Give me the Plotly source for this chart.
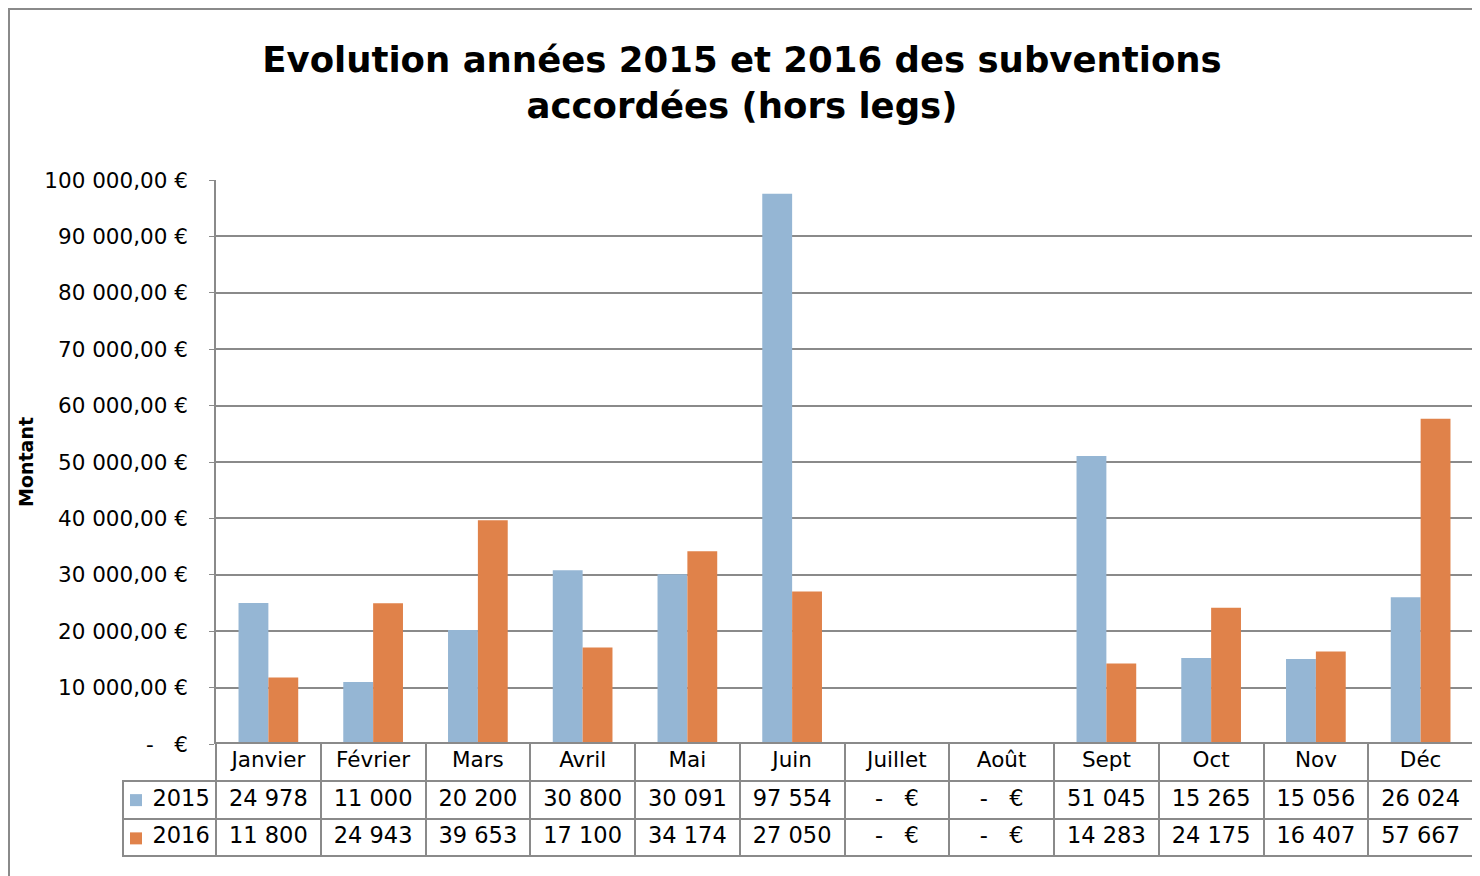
import plotly.graph_objects as go

# Données
mois = ["Janvier", "Février", "Mars", "Avril", "Mai", "Juin",
        "Juillet", "Août", "Sept", "Oct", "Nov", "Déc"]
annees = ["2015", "2016"]
montants_2015 = [24978, 11000, 20200, 30800, 30091, 97554, 0, 0, 51045, 15265, 15056, 26024]
montants_2016 = [11800, 24943, 39653, 17100, 34174, 27050, 0, 0, 14283, 24175, 16407, 57667]

graduations = [0, 10000, 20000, 30000, 40000, 50000, 60000, 70000, 80000, 90000, 100000]
libelles_graduations = ["-\u00a0\u00a0\u00a0€", "10 000,00 €", "20 000,00 €", "30 000,00 €", "40 000,00 €",
                        "50 000,00 €", "60 000,00 €", "70 000,00 €", "80 000,00 €", "90 000,00 €",
                        "100 000,00 €"]

couleur_2015 = "#95b6d4"
couleur_2016 = "#e0824a"
gris = "#8a8a8a"
police = "DejaVu Sans"


def fmt(v):
    # format Excel : séparateur de milliers espace, zéro -> "-   €"
    if v == 0:
        return "-\u00a0\u00a0\u00a0€"
    return f"{v:,}".replace(",", "\u00a0")


fig = go.Figure()

# la légende ne montre que les carrés de couleur, le texte est dans la table
fig.add_trace(go.Bar(x=mois, y=montants_2015, name="", legendgroup="a",
                     marker=dict(color=couleur_2015, line=dict(width=0))))
fig.add_trace(go.Bar(x=mois, y=montants_2016, name="", legendgroup="b",
                     marker=dict(color=couleur_2016, line=dict(width=0))))

# Table de données sous le graphique
fig.add_trace(go.Table(
    domain=dict(x=[0, 1], y=[0, 114 / 677]),
    columnwidth=[93] + [104.75] * 12,
    header=dict(
        values=[""] + mois,
        height=38,
        align="center",
        font=dict(family=police, size=21.5, color="black"),
        fill=dict(color=["rgba(0,0,0,0)"] + ["white"] * 12),
        line=dict(color=["rgba(0,0,0,0)"] + [gris] * 12, width=2),
    ),
    cells=dict(
        values=[["\u00a0\u00a0\u00a0" + a for a in annees]]
        + [[fmt(a), fmt(b)] for a, b in zip(montants_2015, montants_2016)],
        height=37.5,
        align=["left"] + ["center"] * 12,
        font=dict(family=police, size=22.5, color="black"),
        fill=dict(color="white"),
        line=dict(color=gris, width=2),
    ),
))

fig.update_layout(
    width=1468,
    height=868,
    margin=dict(l=115, r=3, t=172, b=19),
    paper_bgcolor="white",
    plot_bgcolor="white",
    showlegend=True,
    legend=dict(
        x=-7 / 1350, xanchor="left",
        y=78 / 677, yanchor="top",
        bgcolor="rgba(0,0,0,0)",
        borderwidth=0,
        traceorder="grouped",
        tracegroupgap=6,
        itemwidth=30,
        font=dict(family=police, size=22.5, color="black"),
    ),
    barmode="group",
    bargap=0.43,
    bargroupgap=0,
    font=dict(family=police, color="black"),
    title=dict(
        text="<b>Evolution années 2015 et 2016 des subventions<br>accordées (hors legs)</b>",
        x=0.5, xref="container", xanchor="center",
        y=1 - 64 / 868, yanchor="middle",
        font=dict(family=police, size=35.5, color="black"),
    ),
    xaxis=dict(
        domain=[93 / 1350, 1],
        showticklabels=False,
        showgrid=False,
        ticks="",
        showline=False,
        zeroline=False,
    ),
    yaxis=dict(
        domain=[113 / 677, 1],
        range=[0, 100000],
        tickvals=graduations,
        ticktext=libelles_graduations,
        tickfont=dict(family=police, size=21.5, color="black"),
        ticks="outside",
        ticklen=5,
        tickcolor=gris,
        ticklabelstandoff=17,
        showgrid=True,
        gridcolor=gris,
        gridwidth=1.5,
        showline=True,
        linecolor=gris,
        linewidth=1.5,
        zeroline=False,
    ),
    annotations=[dict(
        text="<b>Montant</b>", textangle=-90,
        xref="paper", x=-97 / 1350, xanchor="center",
        yref="y domain", y=0.5, yanchor="middle",
        showarrow=False,
        font=dict(family=police, size=19, color="black"),
    )],
)

# Cadre extérieur du graphique
fig.add_shape(type="rect", xref="paper", yref="paper",
              x0=-114 / 1350, x1=1, y0=-0.1, y1=848 / 677,
              line=dict(color=gris, width=2), fillcolor="rgba(0,0,0,0)", layer="below")

fig.write_html("out.html")
